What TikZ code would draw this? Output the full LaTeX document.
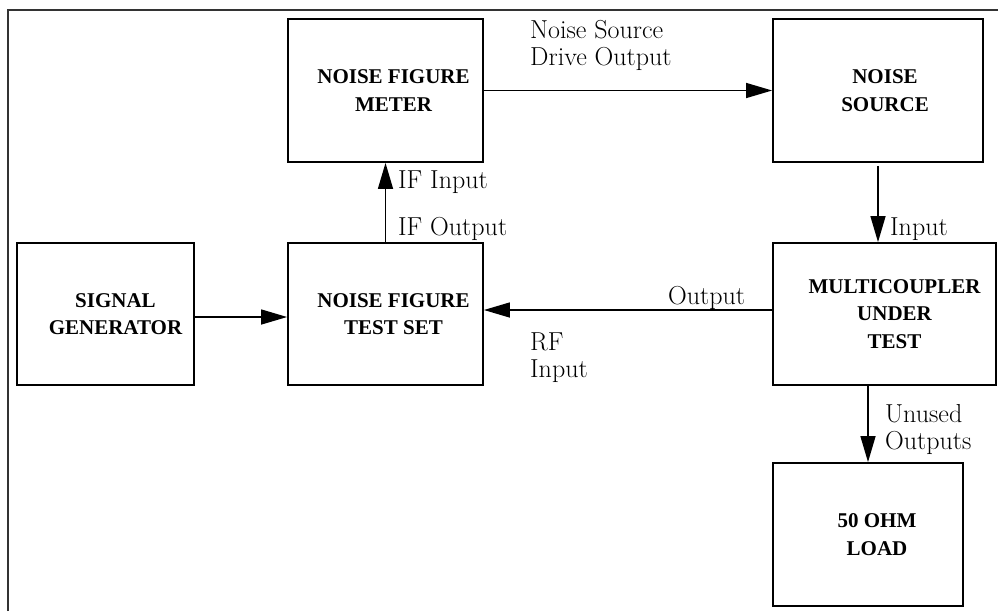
\documentclass[tikz,border=0pt]{standalone}
\usepackage{fontspec}
\newfontfamily\boxfont{Liberation Serif}
\usetikzlibrary{arrows.meta}
\tikzset{
  blk/.style={draw=black, line width=1.8pt, rectangle, inner sep=0pt},
  btxt/.style={font=\boxfont\bfseries\fontsize{21}{27.5}\selectfont, align=center, inner sep=0pt},
  lbl/.style={font=\fontsize{26}{27}\selectfont, align=left, inner sep=0pt, anchor=north west},
  conn/.style={line width=1.4pt, -{Triangle[length=26pt,width=15pt]}},
  frame/.style={line width=1.6pt, draw=black!80}
}
\begin{document}
\begin{tikzpicture}[x=1pt,y=-1pt]
\useasboundingbox (0,0) rectangle (998,611);
\draw[frame] (8,611) -- (8,10) -- (998,10);
% boxes
\node[blk, minimum width=195pt, minimum height=143pt] (nfm) at (385.5,90.5) {};
\node[blk, minimum width=210pt, minimum height=143pt] (ns) at (878,90.5) {};
\node[blk, minimum width=177pt, minimum height=142pt] (sg) at (105.5,314) {};
\node[blk, minimum width=195pt, minimum height=142pt] (ts) at (385.5,314) {};
\node[blk, minimum width=223pt, minimum height=142pt] (mc) at (884.5,314) {};
\node[blk, minimum width=190pt, minimum height=143pt] (ld) at (868,534.5) {};
% box texts
\node[btxt] at ([xshift=8pt]nfm.center) {NOISE FIGURE\\METER};
\node[btxt] at ([xshift=7pt]ns.center) {NOISE\\SOURCE};
\node[btxt] at ([xshift=10pt]sg.center) {SIGNAL\\GENERATOR};
\node[btxt] at ([xshift=8pt]ts.center) {NOISE FIGURE\\TEST SET};
\node[btxt] at ([xshift=10pt]mc.center) {MULTICOUPLER\\UNDER\\TEST};
\node[btxt] at ([xshift=9pt]ld.center) {50 OHM\\LOAD};
% connectors
\draw[conn] (nfm.east) -- (ns.west);
\draw[conn] ([yshift=-3pt]ns.south) -- (ns.south |- mc.north);
\draw[conn] (ts.north) -- (nfm.south);
\draw[conn] ([yshift=-3pt]sg.east) -- ([yshift=-3pt]ts.west);
\draw[conn] ([yshift=4pt]mc.west) -- ([yshift=4pt]ts.east);
\draw[conn] (ld.north |- mc.south) -- (ld.north);
% labels
\node[lbl] (l1) at (530,20.3) {Noise Source\\Drive Output};
\node[lbl] (l2) at (398,170.3) {IF Input};
\node[lbl] (l3) at (398,217.3) {IF Output};
\node[lbl] (l4) at (890,217.3) {Input};
\node[lbl] (l5) at (668,286.3) {Output};
\node[lbl] (l6) at (530,332.3) {RF\\Input};
\node[lbl] (l7) at (885,404) {Unused\\Outputs};
\end{tikzpicture}
\end{document}
